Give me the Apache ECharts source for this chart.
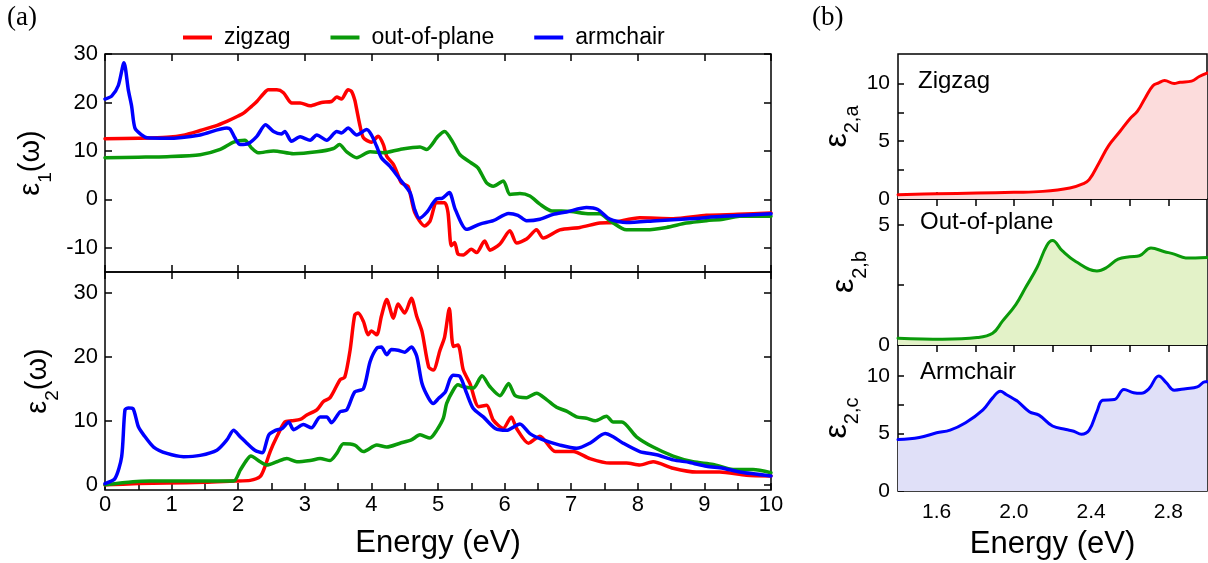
<!DOCTYPE html>
<html><head><meta charset="utf-8">
<script src="https://cdn.jsdelivr.net/npm/echarts@6/dist/echarts.min.js"></script>
<style>html,body{margin:0;padding:0;background:#fff}#c{width:1208px;height:563px}</style>
</head><body><div id="c"></div>
<script>
// ---------- DATA ----------
const legendNames = ['zigzag', 'out-of-plane', 'armchair'];
const panelBLabels = ['Zigzag', 'Out-of-plane', 'Armchair'];
const xTicksA = [0,1,2,3,4,5,6,7,8,9,10];
const xMinorTicksA = [0,0.5,1,1.5,2,2.5,3,3.5,4,4.5,5,5.5,6,6.5,7,7.5,8,8.5,9,9.5,10];
const yTicksEps1 = [-10,0,10,20,30];
const yTicksEps2 = [0,10,20,30];
const xLabelsB = [1.6,2.0,2.4,2.8];
const xTicksB = [1.6,1.8,2.0,2.2,2.4,2.6,2.8];
const yLabelsBa = [0,5,10];
const yTicksBa = [0,2.5,5,7.5,10];
const yLabelsBb = [0,5];
const yTicksBb = [0,2.5,5];
const yLabelsBc = [0,5,10];
const yTicksBc = [0,2.5,5,7.5,10];

const eps1Zigzag = [[0,12.5],[0.5,12.6],[0.93,12.8],[1.2,13.3],[1.43,14.2],[1.65,15.1],[1.83,16.1],[2.0,17.2],[2.08,17.8],[2.2,19.2],[2.28,20.2],[2.38,21.8],[2.45,22.6],[2.58,22.6],[2.68,22.0],[2.75,20.6],[2.8,19.9],[2.93,19.9],[3.08,19.3],[3.25,20.0],[3.4,20.2],[3.48,21.1],[3.55,20.7],[3.65,22.6],[3.7,22.3],[3.75,20.5],[3.78,18.5],[3.83,15.1],[3.88,12.7],[4.0,11.8],[4.1,13.0],[4.18,11.3],[4.23,8.9],[4.33,7.2],[4.4,5.0],[4.45,3.4],[4.55,2.7],[4.65,-2.7],[4.8,-5.5],[4.88,-4.5],[4.98,-0.7],[5.1,-0.7],[5.15,-2.7],[5.2,-9.6],[5.25,-8.9],[5.3,-11.3],[5.38,-11.5],[5.5,-10.3],[5.58,-11.0],[5.7,-8.6],[5.78,-10.5],[5.93,-9.2],[6.08,-6.5],[6.18,-9.0],[6.33,-8.2],[6.48,-6.3],[6.58,-8.0],[6.83,-6.3],[7.13,-5.8],[7.43,-4.9],[7.63,-4.8],[8.03,-3.8],[8.53,-4.0],[9.03,-3.3],[9.5,-3.1],[10,-2.8]];
const eps1OutOfPlane = [[0,8.6],[0.5,8.7],[0.93,8.8],[1.43,9.2],[1.73,10.3],[1.93,11.8],[2.1,12.2],[2.2,10.6],[2.3,9.6],[2.53,10.0],[2.83,9.4],[3.18,9.8],[3.43,10.5],[3.52,11.3],[3.63,9.8],[3.78,8.6],[3.98,9.8],[4.18,9.6],[4.43,10.3],[4.73,10.8],[4.83,10.3],[5.0,13.0],[5.1,14.0],[5.23,11.6],[5.33,9.2],[5.5,7.5],[5.6,6.5],[5.73,3.4],[5.83,2.7],[5.98,3.8],[6.08,1.0],[6.23,1.2],[6.38,0.7],[6.53,-1.0],[6.71,-2.4],[6.85,-2.4],[7.0,-2.5],[7.28,-3.0],[7.43,-3.0],[7.58,-4.4],[7.83,-6.3],[8.13,-6.3],[8.43,-5.8],[8.73,-4.9],[9.03,-4.4],[9.28,-4.1],[9.53,-3.5],[10,-3.5]];
const eps1Armchair = [[0,20.7],[0.1,21.3],[0.2,23.5],[0.285,28.2],[0.35,22.6],[0.4,19.2],[0.45,14.7],[0.55,13.3],[0.63,12.7],[0.93,12.6],[1.43,13.3],[1.83,14.7],[1.88,14.5],[1.95,12.7],[2.03,11.3],[2.15,11.5],[2.28,13.0],[2.41,15.4],[2.53,14.0],[2.65,13.5],[2.7,14.0],[2.8,12.0],[2.93,12.9],[3.08,12.2],[3.18,13.3],[3.33,12.2],[3.48,14.0],[3.55,13.7],[3.65,14.7],[3.78,13.3],[3.93,14.4],[4.0,13.3],[4.08,10.9],[4.15,8.6],[4.28,6.8],[4.43,4.1],[4.58,1.4],[4.65,-2.1],[4.72,-3.9],[4.83,-2.7],[4.98,0.1],[5.06,0.2],[5.17,1.4],[5.26,-2.1],[5.43,-6.2],[5.63,-5.1],[5.83,-4.4],[6.06,-2.9],[6.2,-3.3],[6.33,-4.4],[6.53,-4.1],[6.73,-3.1],[6.93,-2.6],[7.23,-1.7],[7.4,-2.1],[7.58,-4.1],[7.83,-4.8],[8.28,-4.4],[8.78,-4.0],[9.28,-3.5],[10,-3.0]];

const eps2Zigzag = [[0,0],[0.5,0.2],[0.93,0.3],[1.5,0.4],[1.93,0.6],[2.18,0.7],[2.33,1.3],[2.4,2.8],[2.48,5.2],[2.58,7.5],[2.7,9.8],[2.8,10.0],[2.93,10.2],[3.03,10.9],[3.18,11.7],[3.28,13.0],[3.38,13.6],[3.53,16.4],[3.6,16.8],[3.68,21.0],[3.75,26.5],[3.8,26.8],[3.88,25.5],[3.95,23.4],[4.0,24.0],[4.08,23.4],[4.15,26.3],[4.23,28.9],[4.33,26.0],[4.4,28.2],[4.5,26.8],[4.6,29.1],[4.68,26.3],[4.76,23.9],[4.86,18.4],[4.93,17.9],[5.03,21.0],[5.1,23.1],[5.17,27.5],[5.23,21.6],[5.3,21.8],[5.38,17.9],[5.48,15.8],[5.61,12.2],[5.73,12.4],[5.83,10.1],[5.98,8.8],[6.1,10.6],[6.18,8.8],[6.36,6.5],[6.53,7.6],[6.76,5.2],[7.03,5.2],[7.28,4.1],[7.58,3.4],[7.83,3.4],[8.03,3.1],[8.23,3.6],[8.53,2.6],[8.88,2.0],[9.23,2.0],[9.63,1.5],[10,1.4]];
const eps2OutOfPlane = [[0,0],[0.42,0.5],[0.68,0.6],[1.93,0.6],[2.03,2.3],[2.13,3.9],[2.19,4.5],[2.33,3.6],[2.43,3.1],[2.58,3.6],[2.73,4.1],[2.88,3.6],[3.08,3.8],[3.23,4.1],[3.38,3.8],[3.48,4.9],[3.58,6.4],[3.75,6.2],[3.88,5.2],[4.08,6.2],[4.23,5.9],[4.43,6.5],[4.6,7.0],[4.73,7.8],[4.88,7.3],[4.98,8.5],[5.08,10.4],[5.13,12.7],[5.23,14.8],[5.3,15.6],[5.38,15.3],[5.53,15.1],[5.66,17.0],[5.78,15.3],[5.93,13.9],[6.06,15.8],[6.16,13.9],[6.33,13.6],[6.48,14.3],[6.63,13.3],[6.78,12.1],[6.93,11.5],[7.08,10.6],[7.23,10.4],[7.36,10.0],[7.53,10.7],[7.63,9.8],[7.76,9.8],[7.98,7.5],[8.23,5.9],[8.53,4.5],[8.83,3.6],[9.13,3.2],[9.43,2.4],[9.73,2.4],[10,1.9]];
const eps2Armchair = [[0,0.2],[0.15,1.0],[0.25,4.4],[0.3,11.7],[0.35,12.0],[0.42,11.9],[0.5,9.1],[0.58,7.8],[0.73,5.9],[0.93,4.9],[1.18,4.4],[1.43,4.6],[1.68,5.4],[1.83,7.0],[1.93,8.5],[2.03,7.5],[2.13,6.5],[2.25,5.4],[2.36,5.0],[2.46,7.8],[2.56,8.5],[2.66,8.8],[2.76,9.8],[2.83,8.6],[2.98,9.4],[3.1,8.9],[3.23,10.6],[3.33,10.6],[3.4,9.7],[3.53,11.4],[3.63,11.7],[3.75,14.5],[3.88,15.0],[3.98,19.2],[4.08,21.3],[4.15,21.5],[4.23,20.3],[4.3,21.1],[4.4,21.0],[4.5,20.7],[4.6,21.5],[4.68,20.1],[4.76,15.8],[4.86,13.5],[4.93,12.7],[5.01,13.5],[5.11,14.5],[5.18,16.5],[5.23,17.1],[5.33,16.9],[5.43,14.3],[5.53,11.9],[5.68,10.6],[5.86,8.8],[6.03,8.5],[6.23,9.5],[6.38,8.0],[6.58,7.0],[6.83,6.2],[7.08,5.7],[7.28,6.5],[7.51,8.0],[7.63,7.5],[7.78,6.5],[8.03,5.2],[8.28,4.7],[8.53,3.9],[8.78,3.5],[9.03,2.9],[9.28,2.6],[9.53,2.0],[10,1.4]];

const eps2aZoom = [[1.4,0.37],[1.6,0.45],[1.81,0.52],[2.0,0.58],[2.15,0.66],[2.29,0.95],[2.36,1.33],[2.39,1.67],[2.44,3.1],[2.49,4.6],[2.55,5.86],[2.6,6.93],[2.64,7.6],[2.68,8.75],[2.72,9.8],[2.75,10.05],[2.78,10.25],[2.83,10.0],[2.86,10.1],[2.92,10.2],[2.96,10.6],[3.0,10.9]];
const eps2bZoom = [[1.4,0.28],[1.63,0.24],[1.81,0.31],[1.89,0.49],[1.94,0.98],[2.01,1.68],[2.06,2.38],[2.12,3.22],[2.17,4.13],[2.2,4.34],[2.25,3.92],[2.32,3.47],[2.43,3.08],[2.48,3.22],[2.54,3.57],[2.6,3.67],[2.65,3.71],[2.71,4.03],[2.78,3.88],[2.83,3.78],[2.89,3.62],[2.94,3.62],[3.0,3.64]];
const eps2cZoom = [[1.4,4.47],[1.51,4.65],[1.6,5.06],[1.67,5.3],[1.75,5.94],[1.84,7.06],[1.89,8.1],[1.93,8.68],[1.96,8.4],[2.0,8.0],[2.02,7.8],[2.08,6.9],[2.13,6.6],[2.2,5.65],[2.27,5.35],[2.31,5.2],[2.35,4.94],[2.39,5.3],[2.43,6.9],[2.46,7.9],[2.52,7.95],[2.57,8.83],[2.62,8.55],[2.66,8.5],[2.7,8.9],[2.75,10.0],[2.79,9.4],[2.83,8.77],[2.89,8.9],[2.95,9.05],[2.99,9.5],[3.0,9.5]];

// ---------- CHART ----------
const FONT = '"Liberation Sans", Arial, sans-serif';
const SERIF = '"Liberation Serif", "Times New Roman", serif';
const RED = '#ff0000', GREEN = '#0a9a0a', BLUE = '#0000ff';
const FILL_RED = '#fcdcdc', FILL_GREEN = '#e3f2c8', FILL_BLUE = '#e0e0f8';

const chart = echarts.init(document.getElementById('c'));

const grids = [
  {left:105, top:54, width:666, height:218},
  {left:105, top:272, width:666, height:218},
  {left:898, top:54, width:309, height:145},
  {left:898, top:199, width:309, height:146},
  {left:898, top:345, width:309, height:146}
].map(g => Object.assign({show:true, borderColor:'#000', borderWidth:1.5, backgroundColor:'transparent'}, g));

function xAx(grid, pos, min, max, ticks, labels, extra) {
  return Object.assign({
    type:'value', gridIndex:grid, position:pos, min:min, max:max,
    axisLine:{show:false, onZero:false}, splitLine:{show:false},
    axisTick:{show:true, inside:true, length:7, lineStyle:{color:'#000', width:1.5}, customValues:ticks},
    axisLabel: labels ? {show:true, customValues:labels, color:'#000', fontFamily:FONT, fontSize:22, margin:4} : {show:false}
  }, extra || {});
}
function yAx(grid, pos, min, max, ticks, labels, extra) {
  return Object.assign({
    type:'value', gridIndex:grid, position:pos, min:min, max:max,
    axisLine:{show:false, onZero:false}, splitLine:{show:false},
    axisTick:{show:true, inside:true, length:7, lineStyle:{color:'#000', width:1.5}, customValues:ticks},
    axisLabel: labels ? {show:true, customValues:labels, color:'#000', fontFamily:FONT, fontSize:22, margin:7} : {show:false}
  }, extra || {});
}

function epsName(sub, suffix, size, subSize, gap) {
  return {
    name: '{e|ε}{s|' + sub + '}' + (suffix ? '{e|' + suffix + '}' : ''),
    nameLocation:'middle', nameRotate:90, nameGap:gap,
    nameTextStyle:{
      rich:{
        e:{fontFamily:FONT, fontSize:size, color:'#000', lineHeight:size+4},
        s:{fontFamily:FONT, fontSize:subSize, color:'#000', lineHeight:size+4, verticalAlign:'bottom', padding:[0,0,-8,0]}
      }
    }
  };
}

const energyName = {
  name:'Energy (eV)', nameLocation:'middle', nameGap:38,
  nameTextStyle:{fontFamily:FONT, fontSize:31, color:'#000'}
};

const xAxes = [
  xAx(0,'bottom',0,10,xTicksA,null),
  xAx(0,'top',0,10,xTicksA,null),
  xAx(1,'bottom',0,10,xMinorTicksA,xTicksA, energyName),
  xAx(1,'top',0,10,xTicksA,null),
  xAx(2,'bottom',1.4,3.0,xTicksB,null),
  xAx(3,'bottom',1.4,3.0,xTicksB,null),
  xAx(3,'top',1.4,3.0,xTicksB,null),
  xAx(4,'bottom',1.4,3.0,xTicksB,xLabelsB, energyName),
  xAx(4,'top',1.4,3.0,xTicksB,null)
];
xAxes[7].axisLabel.margin = 11;
xAxes[7].axisLabel.fontSize = 21;
xAxes[7].axisLabel.formatter = v => v.toFixed(1);

const yAxes = [
  yAx(0,'left',-15,30,yTicksEps1,yTicksEps1, epsName('1','(ω)',29,19,50)),
  yAx(0,'right',-15,30,yTicksEps1,null),
  yAx(1,'left',-0.8,33.2,yTicksEps2,yTicksEps2, epsName('2','(ω)',29,19,50)),
  yAx(1,'right',-0.8,33.2,yTicksEps2,null),
  yAx(2,'left',0,12.55,yTicksBa,yLabelsBa, epsName('2,a','',32,20,36)),
  yAx(3,'left',0,6.07,yTicksBb,yLabelsBb, epsName('2,b','',32,20,36)),
  yAx(4,'left',0,12.7,yTicksBc,yLabelsBc, epsName('2,c','',32,20,36))
];
[4,5,6].forEach(i => { yAxes[i].axisLabel.fontSize = 21; yAxes[i].axisLabel.margin = 8; yAxes[i].axisTick.length = 6; });

function line(name, data, xi, yi, color, width, fill) {
  const s = {
    type:'line', name:name, data:data, xAxisIndex:xi, yAxisIndex:yi,
    showSymbol:false, symbol:'none', smooth:0.25, animation:false,
    lineStyle:{color:color, width:width, cap:'round', join:'round'},
    itemStyle:{color:color}
  };
  if (fill) { s.areaStyle = {color:fill, opacity:1, origin:'start'}; s.smooth = 0.4; }
  return s;
}

const series = [
  line(legendNames[0], eps1Zigzag, 0, 0, RED, 3.5),
  line(legendNames[1], eps1OutOfPlane, 0, 0, GREEN, 3.5),
  line(legendNames[2], eps1Armchair, 0, 0, BLUE, 3.5),
  line(legendNames[0], eps2Zigzag, 2, 2, RED, 3.5),
  line(legendNames[1], eps2OutOfPlane, 2, 2, GREEN, 3.5),
  line(legendNames[2], eps2Armchair, 2, 2, BLUE, 3.5),
  line('b-' + panelBLabels[0], eps2aZoom, 4, 4, RED, 3, FILL_RED),
  line('b-' + panelBLabels[1], eps2bZoom, 5, 5, GREEN, 3, FILL_GREEN),
  line('b-' + panelBLabels[2], eps2cZoom, 7, 6, BLUE, 3, FILL_BLUE)
];

const option = {
  backgroundColor:'#fff',
  animation:false,
  grid: grids,
  xAxis: xAxes,
  yAxis: yAxes,
  legend: {
    data: legendNames.map((n,i) => ({name:n, itemStyle:{color:[RED,GREEN,BLUE][i]}})),
    left:178, top:21, itemWidth:29, itemHeight:4, itemGap:40, icon:'rect',
    selectedMode:false,
    textStyle:{fontFamily:FONT, fontSize:23, color:'#000', padding:[0,0,0,7]}
  },
  graphic: [
    {type:'text', left:7, top:4, style:{text:'(a)', font:'27px ' + SERIF, fill:'#000'}},
    {type:'text', left:812, top:4, style:{text:'(b)', font:'27px ' + SERIF, fill:'#000'}},
    {type:'text', left:918, top:69, style:{text:panelBLabels[0], font:'24px ' + FONT, fill:'#000'}},
    {type:'text', left:920, top:210, style:{text:panelBLabels[1], font:'24px ' + FONT, fill:'#000'}},
    {type:'text', left:920, top:360, style:{text:panelBLabels[2], font:'24px ' + FONT, fill:'#000'}}
  ],
  series: series
};
chart.setOption(option);
</script>
</body></html>
